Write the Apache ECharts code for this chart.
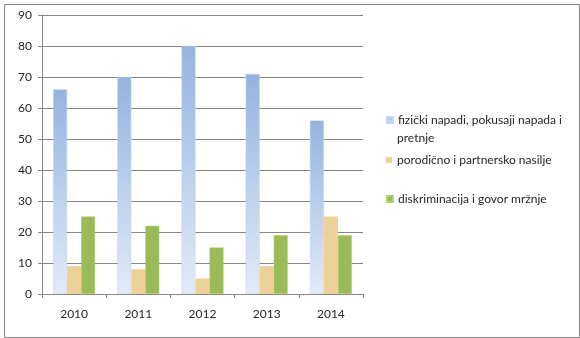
<!DOCTYPE html>
<html><head><meta charset="utf-8">
<script src="https://cdn.jsdelivr.net/npm/echarts@6/dist/echarts.min.js"></script>
<style>html,body{margin:0;padding:0;background:#fff}#c{width:580px;height:338px}</style>
</head><body><div id="c"></div>
<script>
var categories = ['2010', '2011', '2012', '2013', '2014'];
var seriesNames = ['fizički napadi, pokusaji napada i pretnje', 'porodično i partnersko nasilje', 'diskriminacija i govor mržnje'];
var fizicki = [66, 70, 80, 71, 56];
var porodicno = [9, 8, 5, 9, 25];
var diskriminacija = [25, 22, 15, 19, 19];
var yTicks = [0, 10, 20, 30, 40, 50, 60, 70, 80, 90];

var font = 'Lato, "Open Sans", sans-serif';
var chart = echarts.init(document.getElementById('c'), null, {renderer: 'canvas'});
var blueGrad = new echarts.graphic.LinearGradient(0, 0, 0, 1, [
  {offset: 0, color: '#95b3e0'}, {offset: 1, color: '#e2eaf7'}
]);
var legendText = {fontFamily: font, fontSize: 12, color: '#262626'};
var legendBase = {left: 386, orient: 'vertical', itemWidth: 6, itemHeight: 6, icon: 'rect',
  textStyle: legendText, selectedMode: false, padding: 0};

chart.setOption({
  animation: false,
  graphic: [{
    type: 'rect', left: 2, top: 2, silent: true,
    shape: {width: 575, height: 333},
    style: {fill: 'none', stroke: '#868686', lineWidth: 1}
  }, {
    type: 'text', left: 397, top: 132, silent: true,
    style: {text: 'pretnje', font: '12px ' + font, fill: '#262626'}
  }],
  grid: {left: 42, right: 217, top: 15, bottom: 44},
  legend: [
    Object.assign({data: [seriesNames[0]], top: 114,
      formatter: function () { return 'fizički napadi, pokusaji napada i'; }}, legendBase),
    Object.assign({data: [seriesNames[1]], top: 154}, legendBase),
    Object.assign({data: [seriesNames[2]], top: 193}, legendBase)
  ],
  xAxis: {
    type: 'category', data: categories,
    axisLine: {lineStyle: {color: '#868686'}},
    axisTick: {show: true, length: 4, lineStyle: {color: '#868686'}},
    axisLabel: {fontFamily: font, fontSize: 12, color: '#262626', margin: 14}
  },
  yAxis: {
    type: 'value', min: 0, max: 90, interval: 10,
    axisLine: {show: true, lineStyle: {color: '#868686'}},
    axisTick: {show: true, length: 4, lineStyle: {color: '#868686'}},
    splitLine: {lineStyle: {color: '#868686'}},
    axisLabel: {fontFamily: font, fontSize: 12, color: '#262626', margin: 10,
      formatter: function (v) { return yTicks.indexOf(v) >= 0 ? String(v) : ''; }}
  },
  series: [
    {name: seriesNames[0], type: 'bar', data: fizicki, barWidth: 14, barGap: '0%',
      itemStyle: {color: blueGrad, borderColor: '#c6d5ef', borderWidth: 0.5}},
    {name: seriesNames[1], type: 'bar', data: porodicno, barWidth: 14, barGap: '0%',
      itemStyle: {color: '#eed199'}},
    {name: seriesNames[2], type: 'bar', data: diskriminacija, barWidth: 14, barGap: '0%',
      itemStyle: {color: '#9bbb59', borderColor: '#b2cf7a', borderWidth: 0.5}}
  ]
});
</script></body></html>
